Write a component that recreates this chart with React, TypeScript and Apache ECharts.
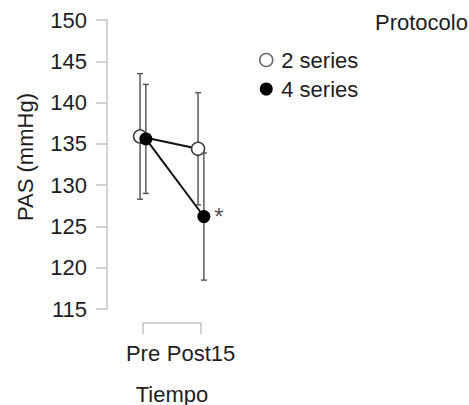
import React, { useEffect, useRef } from "react";
import * as echarts from "echarts";

// ---- data ----
const categories = ["Pre", "Post15"];
const seriesNames = ["2 series", "4 series"];
const mean2 = [135.9, 134.4];
const err2 = [7.6, 6.8];
const mean4 = [135.6, 126.2];
const err4 = [6.6, 7.7];
const sigMarks4 = ["", "*"]; // significance marks for "4 series"
const yTicks = { min: 115, max: 150, interval: 5 };
const yAxisTitle = "PAS (mmHg)";
const xAxisTitle = "Tiempo";
const legendTitle = "Protocolo";

// ---- styling ----
const DODGE = 0.05;
const FONT = "'Liberation Sans', Arial, Helvetica, sans-serif";
const TEXT = "#1e1e1e";
const AXIS = "#c4c4c4";
const ERR = "#5a5a5a";

export default function App() {
  const ref = useRef<HTMLDivElement>(null);

  useEffect(() => {
    if (!ref.current) return;
    const chart = echarts.init(ref.current, null, { renderer: "svg" });

    const errData = (means: number[], errs: number[], off: number) =>
      means.map((m, i) => [i + off, m, m - errs[i], m + errs[i]]);

    const errSeries = (name: string, means: number[], errs: number[], off: number) => ({
      type: "custom",
      name,
      xAxisIndex: 0,
      yAxisIndex: 0,
      z: 1,
      silent: true,
      encode: { x: 0, y: [1, 2, 3] },
      data: errData(means, errs, off),
      renderItem: (params: any, api: any) => {
        const x = api.value(0);
        const lo = api.coord([x, api.value(2)]);
        const hi = api.coord([x, api.value(3)]);
        const cap = 3;
        const st = { stroke: ERR, lineWidth: 1.5 };
        return {
          type: "group",
          children: [
            { type: "line", shape: { x1: hi[0], y1: hi[1], x2: lo[0], y2: lo[1] }, style: st },
            { type: "line", shape: { x1: hi[0] - cap, y1: hi[1], x2: hi[0] + cap, y2: hi[1] }, style: st },
            { type: "line", shape: { x1: lo[0] - cap, y1: lo[1], x2: lo[0] + cap, y2: lo[1] }, style: st },
          ],
        };
      },
    });

    const option: any = {
      animation: false,
      backgroundColor: "#ffffff",
      textStyle: { fontFamily: FONT },
      title: {
        text: legendTitle,
        left: 375,
        top: 11,
        padding: 0,
        textStyle: { fontFamily: FONT, fontSize: 22, fontWeight: "normal", color: TEXT },
      },
      legend: {
        orient: "vertical",
        left: 259,
        top: 49,
        padding: 0,
        itemWidth: 20,
        itemHeight: 13,
        itemGap: 7,
        selectedMode: false,
        textStyle: { fontFamily: FONT, fontSize: 22, color: TEXT },
        data: [
          { name: seriesNames[0], icon: "circle", itemStyle: { color: "#ffffff", borderColor: "#6a6a6a", borderWidth: 1.5 } },
          { name: seriesNames[1], icon: "circle", itemStyle: { color: "#000000", borderColor: "#000000", borderWidth: 0 } },
        ],
      },
      grid: [
        { left: 107, top: 20, width: 116, height: 289, containLabel: false, outerBoundsMode: "none" },
        { left: 143, top: 20, width: 58, height: 303, containLabel: false, outerBoundsMode: "none" },
      ],
      xAxis: [
        {
          type: "value",
          gridIndex: 0,
          min: -0.62,
          max: 1.38,
          show: false,
        },
        {
          type: "category",
          gridIndex: 1,
          data: categories,
          boundaryGap: false,
          axisLine: { show: true, onZero: false, lineStyle: { color: AXIS, width: 1.5 } },
          axisTick: { show: true, length: 11, lineStyle: { color: AXIS, width: 1.5 } },
          axisLabel: { interval: 0, margin: 19, fontFamily: FONT, fontSize: 22, color: TEXT },
          splitLine: { show: false },
          name: xAxisTitle,
          nameLocation: "middle",
          nameGap: 60,
          nameTextStyle: { fontFamily: FONT, fontSize: 22, color: TEXT },
        },
      ],
      yAxis: [
        {
          type: "value",
          gridIndex: 0,
          position: "left",
          min: yTicks.min,
          max: yTicks.max,
          interval: yTicks.interval,
          axisLine: { show: true, onZero: false, lineStyle: { color: AXIS, width: 1.5 } },
          axisTick: { show: true, length: 11, lineStyle: { color: AXIS, width: 1.5 } },
          axisLabel: { margin: 20, fontFamily: FONT, fontSize: 22, color: TEXT },
          splitLine: { show: false },
        },
        { type: "value", gridIndex: 1, show: false, min: 0, max: 1 },
      ],
      graphic: [
        {
          type: "text",
          x: 25,
          y: 157,
          rotation: Math.PI / 2,
          style: {
            text: yAxisTitle,
            fontFamily: FONT,
            fontSize: 22,
            fill: TEXT,
            align: "center",
            verticalAlign: "middle",
          },
        },
      ],
      series: [
        errSeries(seriesNames[0], mean2, err2, -DODGE),
        errSeries(seriesNames[1], mean4, err4, DODGE),
        {
          type: "line",
          name: seriesNames[0],
          xAxisIndex: 0,
          yAxisIndex: 0,
          z: 3,
          data: mean2.map((m, i) => [i - DODGE, m]),
          symbol: "circle",
          symbolSize: 13,
          showSymbol: true,
          lineStyle: { color: "#111111", width: 2 },
          itemStyle: { color: "#ffffff", borderColor: "#3a3a3a", borderWidth: 1.5 },
        },
        {
          type: "line",
          name: seriesNames[1],
          xAxisIndex: 0,
          yAxisIndex: 0,
          z: 4,
          data: mean4.map((m, i) => ({
            value: [i + DODGE, m],
            label: {
              show: sigMarks4[i] !== "",
              formatter: sigMarks4[i],
              position: "right",
              distance: 4,
              fontFamily: FONT,
              fontSize: 24,
              color: "#555555",
            },
          })),
          symbol: "circle",
          symbolSize: 13,
          showSymbol: true,
          lineStyle: { color: "#111111", width: 2 },
          itemStyle: { color: "#000000", borderColor: "#000000", borderWidth: 0 },
        },
      ],
    };

    chart.setOption(option);
    return () => chart.dispose();
  }, []);

  return (
    <div
      ref={ref}
      style={{ position: "fixed", left: 0, top: 0, width: 469, height: 405, background: "#fff" }}
    />
  );
}
